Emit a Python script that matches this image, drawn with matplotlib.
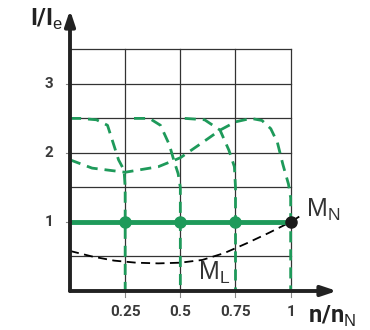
import matplotlib
matplotlib.use('Agg')
import matplotlib.pyplot as plt

plt.rcParams['font.family'] = ['Liberation Sans', 'DejaVu Sans']
plt.rcParams['mathtext.fontset'] = 'custom'
plt.rcParams['mathtext.rm'] = 'Liberation Sans'
plt.rcParams['mathtext.bf'] = 'Roboto:bold'

GREEN = '#1e9a5a'
DARK = '#222222'
GRAY = '#333333'

# current curves (I/Ie over n/nN), one per frequency step
c1_n = [0.0, 0.045, 0.12, 0.17, 0.20, 0.22, 0.245, 0.25, 0.25]
c1_i = [2.5, 2.5, 2.48, 2.4, 2.1, 1.9, 1.75, 1.5, 0.0]
c2_n = [0.29, 0.36, 0.41, 0.45, 0.47, 0.49, 0.5, 0.5]
c2_i = [2.5, 2.5, 2.4, 2.12, 1.9, 1.7, 1.5, 0.0]
c3_n = [0.52, 0.61, 0.68, 0.72, 0.745, 0.75, 0.75]
c3_i = [2.5, 2.48, 2.33, 2.04, 1.8, 1.5, 0.0]
c4_n = [0.0, 0.1, 0.25, 0.4, 0.5, 0.6, 0.68, 0.75, 0.82, 0.87, 0.91, 0.94, 0.965, 0.99, 1.0, 1.0]
c4_i = [1.9, 1.78, 1.72, 1.8, 1.93, 2.15, 2.33, 2.45, 2.5, 2.47, 2.35, 2.15, 1.83, 1.55, 1.35, 0.0]

# load torque curve M_L
ml_n = [0.0, 0.1, 0.2, 0.3, 0.4, 0.5, 0.6, 0.7, 0.8, 0.9, 1.0, 1.05]
ml_i = [0.58, 0.5, 0.44, 0.41, 0.4, 0.41, 0.45, 0.55, 0.69, 0.84, 1.0, 1.1]

op_n = [0.25, 0.5, 0.75]
op_i = [1.0, 1.0, 1.0]

x_ticks = [0.25, 0.5, 0.75, 1]
x_labels = ['0.25', '0.5', '0.75', '1']
y_ticks = [1, 2, 3]

fig = plt.figure(figsize=(3.7, 3.3), dpi=100)
ax = fig.add_axes([70 / 370, 39 / 330, 267 / 370, 281 / 330])
ax.set_xlim(0, 1.21)
ax.set_ylim(0, 4.07)
for s in ax.spines.values():
    s.set_visible(False)
ax.set_xticks([])
ax.set_yticks([])

# grid
for g in [0.5, 1.0, 1.5, 2.0, 2.5, 3.0, 3.5]:
    ax.plot([0, 1], [g, g], color=GRAY, lw=0.9, zorder=1)
for g in [0.25, 0.5, 0.75, 1.0]:
    ax.plot([g, g], [0, 3.5], color=GRAY, lw=0.9, zorder=1)

# small ticks
for t in x_ticks:
    ax.plot([t, t], [0, -0.08], color='#888888', lw=0.8, clip_on=False)
for t in y_ticks:
    ax.plot([0, -0.02], [t, t], color='#888888', lw=0.8, clip_on=False)

# curves
kw = dict(color=GREEN, lw=2.0, ls=(0, (4, 2.5)), zorder=3)
ax.plot(c1_n, c1_i, **kw)
ax.plot(c2_n, c2_i, **kw)
ax.plot(c3_n, c3_i, **kw)
ax.plot(c4_n, c4_i, **kw)
ax.plot(ml_n, ml_i, color='black', lw=1.3, ls=(0, (5, 3)), zorder=3)

ax.plot([0, 1], [1, 1], color=GREEN, lw=3.5, zorder=4, solid_capstyle='butt')
ax.plot(op_n, op_i, 'o', color=GREEN, ms=8, zorder=5)
ax.plot([1], [1], 'o', color='#1a1a1a', ms=8, zorder=6)

# axes arrows
ax.annotate('', xy=(1.21, 0), xytext=(0, 0),
            arrowprops=dict(arrowstyle='-|>,head_length=0.9,head_width=0.3',
                            color=DARK, lw=2.8, shrinkA=0, shrinkB=0), zorder=7)
ax.annotate('', xy=(0, 4.07), xytext=(0, 0),
            arrowprops=dict(arrowstyle='-|>,head_length=0.9,head_width=0.3',
                            color=DARK, lw=2.8, shrinkA=0, shrinkB=0), zorder=7)

# tick labels
for t, lab in zip(x_ticks, x_labels):
    ax.text(t, -0.3, lab, ha='center', va='center', fontsize=11, family='Roboto',
            fontweight='bold', color='#3a3a3a')
for t in y_ticks:
    ax.text(-0.095, t, str(t), ha='center', va='center', fontsize=11, family='Roboto',
            fontweight='bold', color='#3a3a3a')

# axis titles
ax.text(-0.18, 3.84, r'$\mathbf{I/I}_{\mathrm{e}}$', ha='left', va='baseline',
        fontsize=17, color=DARK)
ax.text(1.077, -0.46, r'$\mathbf{n/n}_{\mathrm{N}}$', ha='left', va='baseline',
        fontsize=17, color=DARK)

# curve labels
ax.text(1.068, 1.07, r'M$_{\mathrm{N}}$', ha='left', va='baseline',
        fontsize=18, color=GRAY)
ax.text(0.582, 0.16, r'M$_{\mathrm{L}}$', ha='left', va='baseline',
        fontsize=18, color=GRAY)

fig.savefig('out.png', dpi=100)
